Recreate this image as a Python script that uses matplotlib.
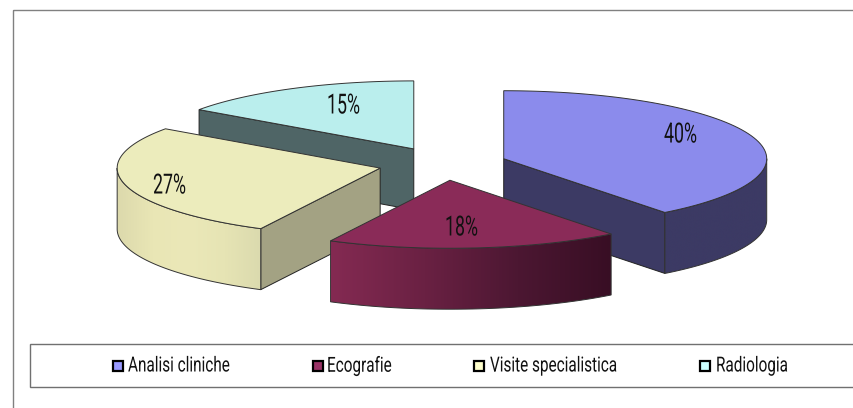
import numpy as np
import matplotlib
matplotlib.use("Agg")
import matplotlib.pyplot as plt
from matplotlib.colors import LinearSegmentedColormap
from matplotlib.patches import Polygon, Rectangle
from matplotlib.patheffects import AbstractPathEffect
from matplotlib.transforms import Affine2D

categories = ["Analisi cliniche", "Ecografie", "Visite specialistica", "Radiologia"]
shares = [39.5, 18.0, 27.3, 15.2]
pct_labels = ["40%", "18%", "27%", "15%"]

top_colors = ["#8b8bec", "#8a2b58", "#ececbc", "#baeeed"]
cut_colors = ["#3c3a64", "#3c3a64", "#a3a283", "#4f6566"]
wall_colors = [
    ["#3c3a64", "#3c3a64"],
    ["#842a52", "#6a2143", "#4c1732", "#380e24"],
    ["#dcd9ac", "#e9e6b5", "#ebe8b8", "#e6e4b4", "#dbdaae"],
    ["#4f6566", "#4f6566"],
]
legend_colors = ["#9999ff", "#993366", "#ffffcc", "#ccffff"]

# pixel layout of the pie
cx, cy = 444, 164
rx, ry = 263, 68
depth = 61
explode = [0.24, 0.24, 0.25, 0.25]
draw_order = [3, 2, 0, 1]  # back to front

label_left = [664, 445, 153, 327]
label_y = [135, 228, 186, 106]
legend_swatch_x = [112, 312, 473, 699]
legend_text_x = [128, 327, 490, 716]


class Squeeze(AbstractPathEffect):
    # no condensed font here, so narrow the glyphs of the text
    def __init__(self, sx):
        super().__init__()
        self.sx = sx

    def draw_path(self, renderer, gc, tpath, affine, rgbFace=None):
        renderer.draw_path(gc, tpath, Affine2D().scale(self.sx, 1) + affine, rgbFace)


def arc(x0, y0, a1, a2, n=80):
    t = np.radians(np.linspace(a1, a2, n))
    return np.column_stack([x0 + rx * np.sin(t), y0 - ry * np.cos(t)])


fig = plt.figure(figsize=(8.54, 4.08), dpi=100)
ax = fig.add_axes([0, 0, 1, 1])

edges = np.concatenate([[0], np.cumsum(shares)]) / sum(shares) * 360
z = 2
for i in draw_order:
    a1, a2 = edges[i], edges[i + 1]
    mid = np.radians((a1 + a2) / 2)
    x0 = cx + explode[i] * rx * np.sin(mid)
    y0 = cy - explode[i] * ry * np.cos(mid)
    drop = np.array([0, depth])

    # radial cut faces that look towards the viewer
    for a, visible in ((a1, np.sin(np.radians(a1)) < -1e-6), (a2, np.sin(np.radians(a2)) > 1e-6)):
        if visible:
            end = arc(x0, y0, a, a, 1)[0]
            quad = [(x0, y0), end, end + drop, (x0, y0 + depth)]
            ax.add_patch(Polygon(quad, closed=True, facecolor=cut_colors[i],
                                 edgecolor="#222222", lw=0.7, zorder=z))
            z += 1

    # outer wall, only the front half of the ellipse shows
    w1, w2 = max(a1, 90), min(a2, 270)
    if w2 > w1:
        rim = arc(x0, y0, w1, w2)
        outline = np.vstack([rim, (rim + drop)[::-1]])
        wall = Polygon(outline, closed=True, facecolor="none", edgecolor="#333333",
                       lw=0.7, zorder=z + 1)
        ax.add_patch(wall)
        cmap = LinearSegmentedColormap.from_list("wall", wall_colors[i])
        grad = np.linspace(0, 1, 256).reshape(1, -1)
        # wall gradients run left to right on screen
        im = ax.imshow(grad, cmap=cmap, aspect="auto", zorder=z,
                       extent=(outline[:, 0].min(), outline[:, 0].max(),
                               outline[:, 1].max(), outline[:, 1].min()))
        im.set_clip_path(wall)
        z += 2

    top = np.vstack([[(x0, y0)], arc(x0, y0, a1, a2)])
    ax.add_patch(Polygon(top, closed=True, facecolor=top_colors[i],
                         edgecolor="#333333", lw=0.7, zorder=z))
    z += 1

for lab, x, y in zip(pct_labels, label_left, label_y):
    ax.text(x, y, lab, ha="left", va="center", fontsize=20, family="Roboto",
            color="#111111", zorder=z, path_effects=[Squeeze(0.64)])

# outer frame and legend box run off the right edge
ax.add_patch(Rectangle((13, 10), 900, 440, facecolor="none", edgecolor="#808080", lw=1, zorder=1))
ax.add_patch(Rectangle((30, 344), 900, 43, facecolor="white", edgecolor="#707070", lw=1, zorder=z))
z += 1
for name, col, sx, tx in zip(categories, legend_colors, legend_swatch_x, legend_text_x):
    ax.add_patch(Rectangle((sx + 1, 361), 10, 10, facecolor=col, edgecolor="black", lw=1.6, zorder=z))
    ax.text(tx, 366, name, ha="left", va="center", fontsize=15, family="Roboto",
            color="#111111", zorder=z, path_effects=[Squeeze(0.735)])

ax.set_xlim(0, 854)
ax.set_ylim(408, 0)
ax.axis("off")
fig.savefig("out.png", dpi=100)
